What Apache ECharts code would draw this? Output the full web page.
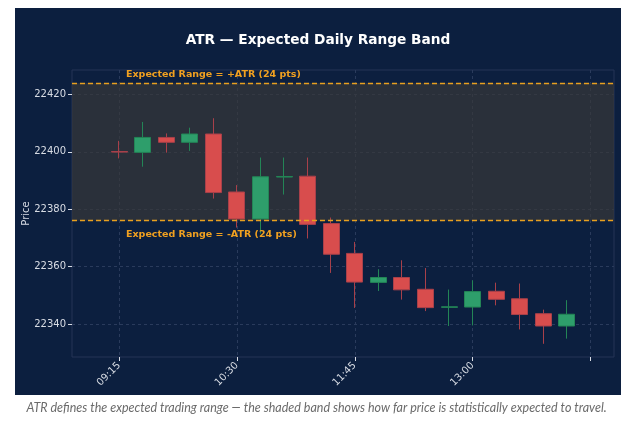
<!DOCTYPE html>
<html>
<head>
<meta charset="utf-8">
<title>ATR — Expected Daily Range Band</title>
<script src="https://cdn.jsdelivr.net/npm/echarts@6/dist/echarts.min.js"></script>
<style>
  html, body { margin: 0; padding: 0; background: #ffffff; }
  #chart { width: 633px; height: 421px; }
</style>
</head>
<body>
<div id="chart"></div>
<script>
// 15-minute candles
const times = ['09:15', '09:30', '09:45', '10:00', '10:15', '10:30', '10:45', '11:00', '11:15', '11:30',
  '11:45', '12:00', '12:15', '12:30', '12:45', '13:00', '13:15', '13:30', '13:45', '14:00']
const opens = [22400.1, 22399.8, 22405.0, 22403.3, 22406.2, 22386.0, 22376.6, 22391.2, 22391.5, 22375.0,
  22364.6, 22354.5, 22356.2, 22352.1, 22345.8, 22345.9, 22351.4, 22348.8, 22343.6, 22339.3]
const closes = [22399.9, 22405.0, 22403.3, 22406.2, 22385.8, 22376.6, 22391.3, 22391.4, 22374.7, 22364.3,
  22354.6, 22356.2, 22351.9, 22345.7, 22346.0, 22351.3, 22348.6, 22343.3, 22339.3, 22343.4]
const lows = [22397.7, 22394.8, 22399.7, 22400.3, 22383.7, 22373.6, 22371.5, 22385.1, 22369.8, 22357.8,
  22345.6, 22351.5, 22348.5, 22344.5, 22339.3, 22339.5, 22346.5, 22338.1, 22333.1, 22334.9]
const highs = [22403.8, 22410.4, 22406.4, 22408.4, 22411.7, 22388.4, 22398.0, 22398.0, 22398.0, 22377.1,
  22368.6, 22359.1, 22362.2, 22359.5, 22352.0, 22355.2, 22354.4, 22354.1, 22345.0, 22348.3]

// empty slots either side of the session, like the original x limits
const padBefore = ['08:45', '09:00']
const padAfter = ['14:15', '14:30']

const priceTicks = [22340, 22360, 22380, 22400, 22420]

const atr = 24
const anchor = 22400
const yMin = 22328.5
const yMax = 22428.5

const categories = padBefore.concat(times, padAfter)
const candles = padBefore.map(() => '-')
  .concat(times.map((t, i) => [opens[i], closes[i], lows[i], highs[i]]))
  .concat(padAfter.map(() => '-'))

const labelIdx = [2, 7, 12, 17]
const tickIdx = [2, 7, 12, 17, 22]

const myChart = echarts.init(document.getElementById('chart'))

const bandLabel = {
  color: '#f0a020',
  fontWeight: 'bold',
  fontSize: 9.5,
  fontFamily: 'DejaVu Sans',
}

const option = {
  backgroundColor: '#ffffff',
  animation: false,
  title: {
    text: 'ATR — Expected Daily Range Band',
    left: 313,
    top: 28,
    textAlign: 'center',
    textStyle: { color: '#ffffff', fontSize: 13.7, fontWeight: 'bold', fontFamily: 'DejaVu Sans' },
  },
  graphic: [
    {
      type: 'rect',
      z: -10,
      silent: true,
      shape: { x: 15, y: 8, width: 606, height: 387 },
      style: { fill: '#0c1f3f' },
    },
    {
      type: 'text',
      left: 'center',
      top: 401,
      silent: true,
      style: {
        text: 'ATR defines the expected trading range — the shaded band shows how far price is statistically expected to travel.',
        fill: '#6b6b6b',
        font: 'italic 12.5px Lato',
      },
    },
  ],
  grid: {
    left: 72,
    right: 19,
    top: 70,
    bottom: 64,
    show: true,
    borderColor: '#243556',
    borderWidth: 1,
    backgroundColor: 'transparent',
  },
  xAxis: {
    type: 'category',
    data: categories,
    boundaryGap: false,
    axisLine: { show: false },
    axisTick: {
      show: true,
      length: 4,
      interval: (i) => tickIdx.includes(i),
      lineStyle: { color: '#d8dce4' },
    },
    axisLabel: {
      interval: (i) => labelIdx.includes(i),
      rotate: 45,
      color: '#d8dce4',
      fontSize: 10,
      fontFamily: 'DejaVu Sans',
      margin: 7,
    },
    splitLine: {
      show: true,
      interval: (i) => tickIdx.includes(i),
      lineStyle: { color: '#2a3b5c', type: [3, 3], width: 1 },
    },
  },
  yAxis: {
    type: 'value',
    min: yMin,
    max: yMax,
    scale: true,
    name: 'Price',
    nameLocation: 'middle',
    nameGap: 41,
    nameMoveOverlap: false,
    nameTextStyle: { color: '#d8dce4', fontSize: 10, fontFamily: 'DejaVu Sans' },
    axisLine: { show: false },
    axisTick: { show: true, length: 4, customValues: priceTicks, lineStyle: { color: '#d8dce4' } },
    axisLabel: {
      color: '#d8dce4',
      fontSize: 10,
      fontFamily: 'DejaVu Sans',
      margin: 6,
      customValues: priceTicks,
      formatter: (v) => (Math.abs(v % 20) < 1e-6 ? String(v) : ''),
    },
    splitLine: {
      show: true,
      lineStyle: { color: '#2a3b5c', type: [3, 3], width: 1 },
    },
  },
  series: [
    {
      type: 'candlestick',
      data: candles,
      barWidth: '70%',
      itemStyle: {
        color: '#2e9e6b',
        color0: '#d84d4d',
        borderColor: '#238556',
        borderColor0: '#a8404a',
        borderWidth: 1,
      },
      markArea: {
        silent: true,
        itemStyle: { color: 'rgba(56,56,56,0.69)' },
        data: [[{ yAxis: anchor + atr }, { yAxis: anchor - atr }]],
      },
      markLine: {
        silent: true,
        symbol: 'none',
        lineStyle: { color: '#e8a020', type: [5, 3], width: 1.4 },
        data: [
          {
            yAxis: anchor + atr,
            label: Object.assign({
              position: 'insideStartTop',
              formatter: 'Expected Range = +ATR (24 pts)',
              padding: [0, 0, 0, 51],
              distance: 3,
            }, bandLabel),
          },
          {
            yAxis: anchor - atr,
            label: Object.assign({
              position: 'insideStartBottom',
              formatter: 'Expected Range = -ATR (24 pts)',
              padding: [0, 0, 0, 45],
              distance: 9,
            }, bandLabel),
          },
        ],
      },
    },
  ],
}

myChart.setOption(option)
</script>
</body>
</html>
